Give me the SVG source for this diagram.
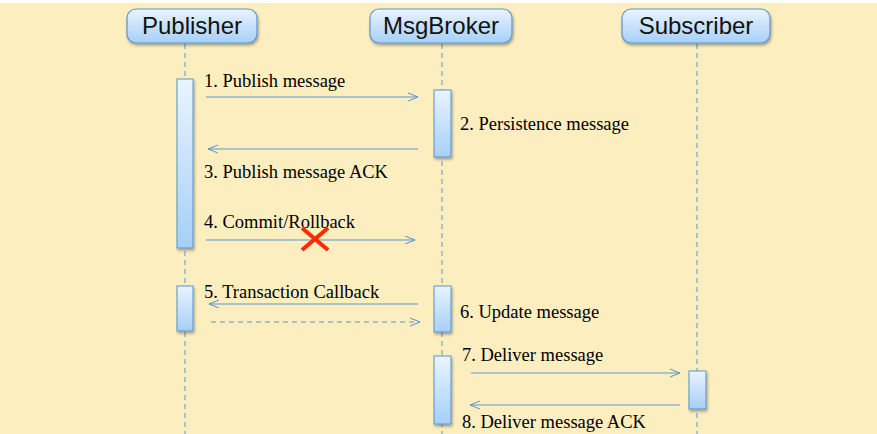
<svg xmlns="http://www.w3.org/2000/svg" width="877" height="434" viewBox="0 0 877 434">
<defs>
<linearGradient id="g" x1="0" y1="0" x2="0" y2="1"><stop offset="0" stop-color="#eaf4ff"/><stop offset="1" stop-color="#a6cff7"/></linearGradient>
<filter id="sh" x="-10%" y="-10%" width="130%" height="140%"><feGaussianBlur in="SourceAlpha" stdDeviation="1.5"/><feOffset dx="1" dy="2"/><feComponentTransfer><feFuncA type="linear" slope="0.35"/></feComponentTransfer><feMerge><feMergeNode/><feMergeNode in="SourceGraphic"/></feMerge></filter>
<marker id="ah" markerWidth="12" markerHeight="10" refX="11" refY="5" orient="auto" markerUnits="userSpaceOnUse"><path d="M1,1 L11,5 L1,9" fill="none" stroke="#5b95d0" stroke-width="1"/></marker>
</defs>
<style>
.hdr{fill:url(#g);stroke:#5b95d0;stroke-width:1.2}
.ht{font-family:"Liberation Sans",Arial,sans-serif;font-size:24px;fill:#111;text-anchor:middle}
.life{stroke:#5b95d0;stroke-width:1;stroke-dasharray:5,4}
.act{fill:url(#g);stroke:#5b95d0;stroke-width:1}
.msg{stroke:#5b95d0;stroke-width:1;fill:none;marker-end:url(#ah)}
.lbl{font-family:"Liberation Serif","Times New Roman",serif;font-size:18.5px;fill:#000}
</style>
<rect x="0" y="0" width="877" height="434" fill="#fdeebf"/>
<rect x="0" y="0" width="877" height="3" fill="#ffffff"/>
<g id="lifelines">
<line class="life" x1="185" y1="44" x2="185" y2="434"/>
<line class="life" x1="442" y1="44" x2="442" y2="434"/>
<line class="life" x1="697" y1="44" x2="697" y2="434"/>
</g>
<g id="publisher"><rect class="hdr" x="127" y="9" width="130" height="34" rx="9" filter="url(#sh)"/><text class="ht" x="192" y="34">Publisher</text></g>
<g id="msgbroker"><rect class="hdr" x="370" y="9" width="142" height="34" rx="9" filter="url(#sh)"/><text class="ht" x="441" y="34">MsgBroker</text></g>
<g id="subscriber"><rect class="hdr" x="622" y="9" width="148" height="34" rx="9" filter="url(#sh)"/><text class="ht" x="696" y="34">Subscriber</text></g>
<g id="activations">
<rect class="act" x="177" y="79" width="16" height="169" filter="url(#sh)"/>
<rect class="act" x="177" y="286" width="16" height="45" filter="url(#sh)"/>
<rect class="act" x="434" y="90" width="17" height="67" filter="url(#sh)"/>
<rect class="act" x="434" y="286" width="17" height="46" filter="url(#sh)"/>
<rect class="act" x="434" y="356" width="17" height="68" filter="url(#sh)"/>
<rect class="act" x="689" y="371" width="17" height="38" filter="url(#sh)"/>
</g>
<g id="connectors">
<line class="msg" x1="206" y1="97" x2="418" y2="97"/>
<line class="msg" x1="418" y1="149" x2="208" y2="149"/>
<line class="msg" x1="206" y1="240" x2="415" y2="240"/>
<line class="msg" x1="418" y1="304" x2="209" y2="304"/>
<line class="msg" x1="211" y1="322" x2="420" y2="322" stroke-dasharray="5,4"/>
<line class="msg" x1="471" y1="373" x2="680" y2="373"/>
<line class="msg" x1="680" y1="405" x2="470" y2="405"/>
</g>
<g id="labels">
<text class="lbl" x="204" y="87">1. Publish message</text>
<text class="lbl" x="460" y="130">2. Persistence message</text>
<text class="lbl" x="204" y="178">3. Publish message ACK</text>
<text class="lbl" x="204" y="228">4. Commit/Rollback</text>
<text class="lbl" x="204" y="298">5. Transaction Callback</text>
<text class="lbl" x="460" y="318">6. Update message</text>
<text class="lbl" x="462" y="361">7. Deliver message</text>
<text class="lbl" x="462" y="428">8. Deliver message ACK</text>
</g>
<g id="cross" stroke="#ff2a00" stroke-width="4" stroke-linecap="butt">
<line x1="302" y1="228" x2="328" y2="250"/>
<line x1="328" y1="228" x2="302" y2="250"/>
</g>
</svg>
